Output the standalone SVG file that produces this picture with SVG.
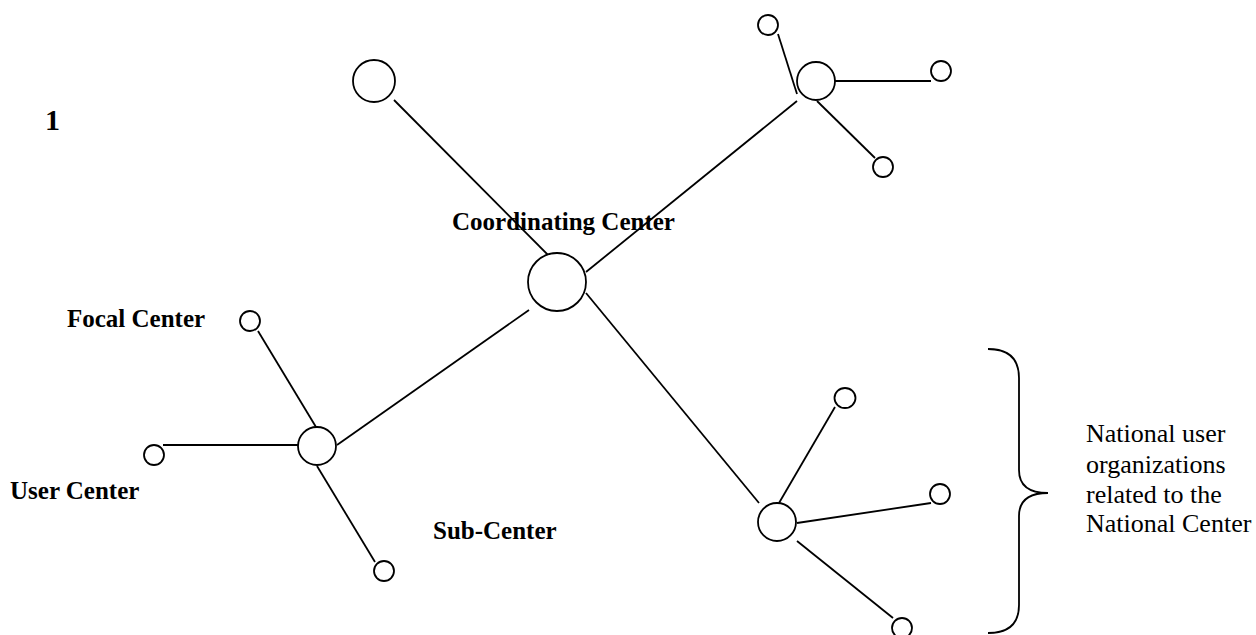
<svg xmlns="http://www.w3.org/2000/svg" width="1256" height="635" viewBox="0 0 1256 635">
<style>
.n{fill:#fff;stroke:#000;stroke-width:1.8}
.c line,.c path{stroke:#000;stroke-width:1.8;fill:none}
.b{font-family:"Liberation Serif","Times New Roman",serif;font-weight:bold;font-size:25px;fill:#000}
.r{font-family:"Liberation Serif","Times New Roman",serif;font-size:26px;fill:#000}
</style>
<rect width="1256" height="635" fill="#fff"/>
<g id="connectors" class="c">
<line x1="394" y1="100" x2="549" y2="256"/>
<line x1="586" y1="272" x2="797" y2="101"/>
<line x1="778" y1="34" x2="797" y2="94"/>
<line x1="835" y1="81" x2="931" y2="81"/>
<line x1="817" y1="101" x2="875" y2="158"/>
<line x1="529" y1="310" x2="337" y2="445"/>
<line x1="258" y1="331" x2="316" y2="427"/>
<line x1="163" y1="445" x2="298" y2="445"/>
<line x1="317" y1="466" x2="375" y2="562"/>
<line x1="586" y1="293" x2="759" y2="503"/>
<line x1="779" y1="503" x2="835" y2="407"/>
<line x1="797" y1="523" x2="931" y2="503"/>
<line x1="797" y1="541" x2="893" y2="618"/>
<path d="M988 349 Q1019 349 1019 378 L1019 470 Q1019 493 1048 493 Q1019 493 1019 516 L1019 605 Q1019 633 988 633"/>
</g>
<g id="coordinating-center"><circle class="n" cx="557" cy="282" r="29"/><text class="b" x="452" y="230">Coordinating Center</text></g>
<g id="top-left-center"><circle class="n" cx="374" cy="81" r="21"/></g>
<g id="top-right-center"><circle class="n" cx="816" cy="81" r="19"/></g>
<g id="tr-top"><circle class="n" cx="768" cy="25" r="10"/></g>
<g id="tr-right"><circle class="n" cx="941" cy="71" r="10"/></g>
<g id="tr-bottom"><circle class="n" cx="883" cy="167" r="10"/></g>
<g id="sub-center"><circle class="n" cx="317" cy="446" r="19"/><text class="b" x="433" y="539">Sub-Center</text></g>
<g id="focal-center"><circle class="n" cx="250" cy="321" r="10"/><text class="b" x="67" y="327">Focal Center</text></g>
<g id="user-center"><circle class="n" cx="154" cy="455" r="10"/><text class="b" x="10" y="499">User Center</text></g>
<g id="sub-lower"><circle class="n" cx="384" cy="571" r="10"/></g>
<g id="national-center"><circle class="n" cx="777" cy="522" r="19"/></g>
<g id="nat-top"><ellipse class="n" cx="845" cy="398" rx="10.5" ry="10"/></g>
<g id="nat-right"><circle class="n" cx="940" cy="494" r="10"/></g>
<g id="nat-bottom"><circle class="n" cx="902" cy="628" r="10"/></g>
<g id="label-1"><text class="b" x="45" y="130" style="font-size:30px">1</text></g>
<g id="national-label"><text class="r" x="1086" y="442">National user</text><text class="r" x="1086" y="473">organizations</text><text class="r" x="1086" y="503">related to the</text><text class="r" x="1086" y="532">National Center</text></g>
</svg>
